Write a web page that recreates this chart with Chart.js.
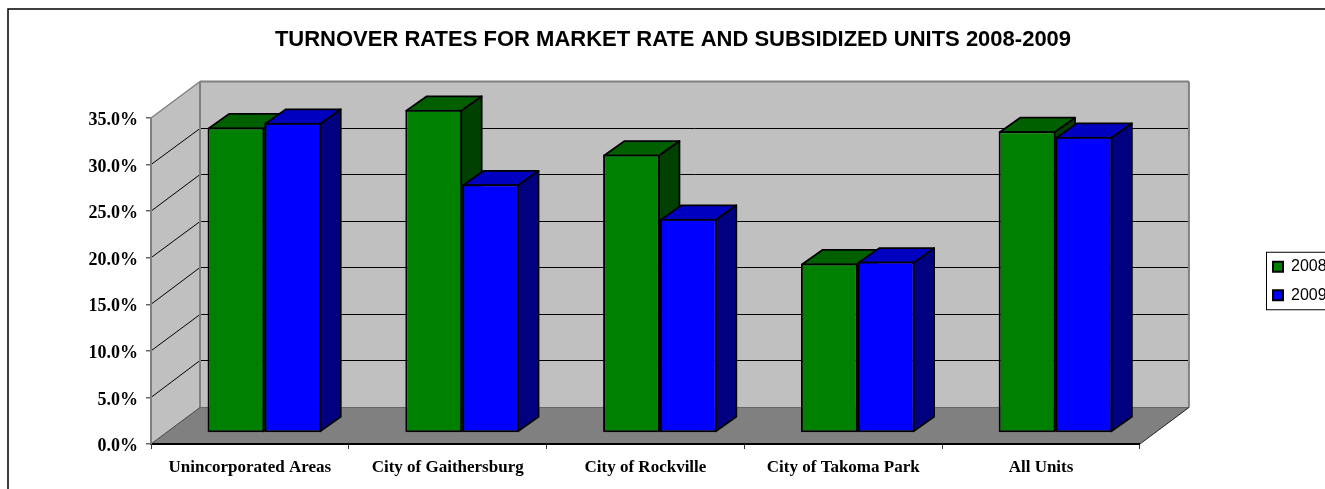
<!DOCTYPE html>
<html lang="en">
<head>
    <meta charset="UTF-8">
    <title>Turnover Rates 2008-2009</title>
    <script src="https://cdn.jsdelivr.net/npm/chart.js"></script>
    <style>
        html, body { margin: 0; padding: 0; background: #fff; overflow: hidden; }
        canvas { display: block; }
    </style>
</head>
<body>
    <canvas id="grafico" width="1346" height="489"></canvas>

    <script>
    const categories = ['Unincorporated Areas', 'City of Gaithersburg', 'City of Rockville', 'City of Takoma Park', 'All Units'];
    const rates2008 = [32.8, 34.7, 29.9, 18.2, 32.4];
    const rates2009 = [33.3, 26.7, 23.0, 18.4, 31.8];
    const yearNames = ['2008', '2009'];
    const yTickStep = 5;
    const yMax = 35;

    // fake 3D offsets, in pixels
    const wallDepth = { x: 49, y: -36.5 };
    const barPlane = { x: 14.5, y: -11 };
    const barDepth = { x: 20.5, y: -14.5 };

    const faceColors = [
        { top: '#006000', side: '#004000' },
        { top: '#0000c0', side: '#000080' }
    ];

    function poly(ctx, pts, fill, stroke, width) {
        ctx.beginPath();
        pts.forEach((p, i) => i ? ctx.lineTo(p[0], p[1]) : ctx.moveTo(p[0], p[1]));
        ctx.closePath();
        if (fill) { ctx.fillStyle = fill; ctx.fill(); }
        if (stroke) { ctx.strokeStyle = stroke; ctx.lineWidth = width; ctx.stroke(); }
    }

    function line(ctx, x1, y1, x2, y2, color, width) {
        ctx.beginPath();
        ctx.moveTo(x1, y1);
        ctx.lineTo(x2, y2);
        ctx.strokeStyle = color;
        ctx.lineWidth = width;
        ctx.stroke();
    }

    function drawBarFaces(ctx, meta, colors) {
        ctx.save();
        ctx.lineJoin = 'round';
        meta.data.forEach(bar => {
            const l = bar.x - bar.width / 2 + 1;
            const r = bar.x + bar.width / 2 - 1;
            const t = bar.y + 1;
            const b = bar.base - 1;
            poly(ctx, [[r, t], [r + barDepth.x, t + barDepth.y], [r + barDepth.x, b + barDepth.y], [r, b]], colors.side, '#000', 1.75);
            poly(ctx, [[l, t], [l + barDepth.x, t + barDepth.y], [r + barDepth.x, t + barDepth.y], [r, t]], colors.top, '#000', 1.75);
        });
        ctx.restore();
    }

    const box3d = {
        id: 'box3d',
        afterLayout(chart) {
            // legend sits past the plot with a gap, and runs off the window
            const l = chart.legend;
            const w = l.width;
            l.left = 1260.5;
            l.right = 1260.5 + w;

            // title is centred on the whole canvas, not what is left by the padding
            chart.titleBlock.left = 0;
            chart.titleBlock.right = chart.width;

            // y labels sit a bit below their tick marks in the original
            chart.scales.y.getLabelItems(chart.chartArea).forEach(item => {
                item.options.translation[1] += 2.5;
            });
        },
        beforeDraw(chart) {
            const ctx = chart.ctx;
            const { left, right, top, bottom } = chart.chartArea;
            const dx = wallDepth.x, dy = wallDepth.y;

            // outer frame
            ctx.save();
            ctx.strokeStyle = '#000';
            ctx.lineWidth = 1.5;
            ctx.strokeRect(8, 9, 1500, 700);

            // walls and floor
            poly(ctx, [[left, bottom], [left + dx, bottom + dy], [left + dx, top + dy], [left, top]], '#c0c0c0');
            poly(ctx, [[left + dx, bottom + dy], [right + dx, bottom + dy], [right + dx, top + dy], [left + dx, top + dy]], '#c0c0c0');
            poly(ctx, [[left, bottom], [right, bottom], [right + dx, bottom + dy], [left + dx, bottom + dy]], '#808080');

            // gridlines from the y scale
            const yScale = chart.scales.y;
            yScale.ticks.forEach(t => {
                if (t.value === 0 || t.value === yMax) return;
                const py = yScale.getPixelForValue(t.value);
                const backY = Math.floor(py + dy) + 0.5;
                line(ctx, left, py, left + dx, backY, '#000', 1);
                line(ctx, left + dx, backY, right + dx, backY, '#000', 1);
            });

            // wall edges
            line(ctx, left, top, left + dx, top + dy, '#808080', 1.5);
            line(ctx, left + dx, top + dy, right + dx, top + dy, '#808080', 2);
            line(ctx, left + dx, top + dy, left + dx, bottom + dy, '#808080', 2);
            line(ctx, right + dx, top + dy, right + dx, bottom + dy, '#808080', 2);
            line(ctx, left + dx, bottom + dy, right + dx, bottom + dy, '#666', 1);
            line(ctx, left, bottom, left + dx, bottom + dy, '#444', 1);
            line(ctx, right, bottom, right + dx, bottom + dy, '#222', 1);
            ctx.restore();
        },
        beforeDatasetsDraw(chart) {
            // 2009 has to paint over 2008, so draw the sets in order here
            const ctx = chart.ctx;
            ctx.save();
            ctx.translate(barPlane.x, barPlane.y);
            chart.getSortedVisibleDatasetMetas().forEach(meta => {
                drawBarFaces(ctx, meta, faceColors[meta.index]);
                meta.controller.draw();
            });
            ctx.restore();
            return false;
        },
        afterDraw(chart) {
            // legend frame, around the legend's own rows
            const ctx = chart.ctx;
            const hit = chart.legend.legendHitBoxes;
            const last = hit[hit.length - 1];
            ctx.save();
            ctx.strokeStyle = '#000';
            ctx.lineWidth = 1;
            ctx.strokeRect(1266.5, hit[0].top - 6.5, 200, last.top + last.height - hit[0].top + 13);
            ctx.restore();
        }
    };

    new Chart(document.getElementById('grafico'), {
        type: 'bar',
        plugins: [box3d],
        data: {
            labels: categories,
            datasets: [
                { label: yearNames[0], data: rates2008, backgroundColor: '#008000', borderColor: '#000', borderWidth: 2, borderSkipped: false },
                { label: yearNames[1], data: rates2009, backgroundColor: '#0000ff', borderColor: '#000', borderWidth: 2, borderSkipped: false }
            ]
        },
        options: {
            responsive: false,
            animation: false,
            layout: { padding: { left: 0, right: 130, top: 0, bottom: 0 } },
            datasets: { bar: { categoryPercentage: 0.575, barPercentage: 1 } },
            plugins: {
                tooltip: { enabled: false },
                title: {
                    display: true,
                    text: 'TURNOVER RATES FOR MARKET RATE AND SUBSIDIZED UNITS 2008-2009',
                    color: '#000',
                    font: { family: '"Liberation Sans"', size: 22, weight: 'bold' },
                    padding: { top: 27, bottom: 64.6 }
                },
                legend: {
                    position: 'right',
                    fullSize: false,
                    labels: {
                        color: '#000',
                        boxWidth: 10,
                        boxHeight: 10,
                        padding: 12.5,
                        font: { family: '"Liberation Sans"', size: 16 }
                    }
                }
            },
            scales: {
                x: {
                    afterFit(scale) { scale.height = 45; },
                    grid: { drawOnChartArea: false, color: '#333', tickLength: 5 },
                    border: { color: '#000', width: 2 },
                    ticks: {
                        color: '#000',
                        padding: 8.5,
                        maxRotation: 0,
                        font: { family: '"Liberation Serif"', size: 17, weight: 'bold' }
                    }
                },
                y: {
                    min: 0,
                    max: yMax,
                    afterFit(scale) { scale.width = 151; },
                    grid: { drawOnChartArea: false, color: '#666', lineWidth: 1.5, tickLength: 5 },
                    border: { color: '#808080', width: 2 },
                    ticks: {
                        stepSize: yTickStep,
                        color: '#000',
                        padding: 8,
                        font: { family: '"Liberation Serif"', size: 18, weight: 'bold' },
                        callback: v => v.toFixed(1) + '%'
                    }
                }
            }
        }
    });
    </script>
</body>
</html>
